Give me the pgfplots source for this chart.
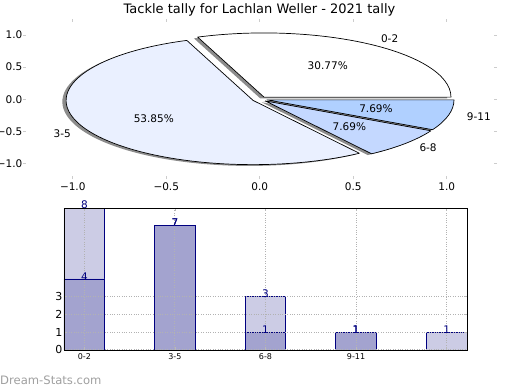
\documentclass[border=0pt]{standalone}
\usepackage{fontspec}
\setmainfont{DejaVu Sans}
\usepackage{pgfplots}
\pgfplotsset{compat=1.18}
\pgfkeys{/pgf/number format/assume math mode=true}
\definecolor{wA}{HTML}{FFFFFF}
\definecolor{wB}{HTML}{EAF0FF}
\definecolor{wC}{HTML}{C4D8FF}
\definecolor{wD}{HTML}{B0D0FF}
\definecolor{barlight}{RGB}{204,204,229}
\definecolor{bardark}{RGB}{163,163,207}
\definecolor{navyc}{RGB}{0,0,128}
% pie data (tackle counts)
\def\vA{4}\def\vB{7}\def\vC{1}\def\vD{1}\def\vT{13}
\def\ux{187}\def\uy{64.2}\def\ex{0.04}
\newcommand\pieshadow[2]{\pgfplotsextra{%
 \pgfmathsetmacro\m{((#1)+(#2))/2}%
 \pgfmathsetmacro\cx{\ex*cos(\m)-0.02}%
 \pgfmathsetmacro\cy{\ex*sin(\m)-0.02}%
 \pgfmathsetmacro\sx{\ux*cos(#1)}%
 \pgfmathsetmacro\sy{\uy*sin(#1)}%
 \fill[black!45] (axis cs:\cx,\cy) -- ++(\sx pt,\sy pt) arc[start angle={#1},end angle={#2},x radius=\ux pt,y radius=\uy pt] -- cycle;}}
\newcommand\pieslice[6]{\pgfplotsextra{%
 \pgfmathsetmacro\m{((#1)+(#2))/2}%
 \pgfmathsetmacro\cx{\ex*cos(\m)}%
 \pgfmathsetmacro\cy{\ex*sin(\m)}%
 \pgfmathsetmacro\sx{\ux*cos(#1)}%
 \pgfmathsetmacro\sy{\uy*sin(#1)}%
 \filldraw[fill=#3, draw=black, line width=0.7pt, line join=round] (axis cs:\cx,\cy) -- ++(\sx pt,\sy pt) arc[start angle={#1},end angle={#2},x radius=\ux pt,y radius=\uy pt] -- cycle;
 \pgfmathsetmacro\lx{\cx+1.1*cos(\m)}%
 \pgfmathsetmacro\ly{\cy+1.1*sin(\m)}%
 \node[anchor=#6, inner sep=0pt, font=\fontsize{10.5}{12}\selectfont] at (axis cs:\lx,\ly) {#4};
 \pgfmathsetmacro\px{\cx+0.6*cos(\m)}%
 \pgfmathsetmacro\py{\cy+0.6*sin(\m)}%
 \node[inner sep=0pt, font=\fontsize{10.5}{12}\selectfont] at (axis cs:\px,\py) {#5};}}
\begin{document}
\begin{tikzpicture}
\path[use as bounding box] (0pt,0pt) rectangle (520pt,390pt);
\begin{axis}[at={(26pt,213.7pt)}, anchor=south west, scale only axis,
 width=467.5pt, height=154.1pt,
 xmin=-1.25, xmax=1.25, ymin=-1.2, ymax=1.2,
 axis line style={draw=none},
 xtick={-1,-0.5,0,0.5,1}, xticklabels={−1.0,−0.5,0.0,0.5,1.0},
 ytick={-1,-0.5,0,0.5,1}, yticklabels={−1.0,−0.5,0.0,0.5,1.0},
 tick style={gray!40, line width=0.8pt}, major tick length=3pt, tick align=outside,
 tick pos=both,
 xticklabel pos=bottom, yticklabel pos=left,
 tick label style={font=\fontsize{10.5}{12}\selectfont},
 yticklabel style={inner sep=0pt, xshift=-0.5pt},
 clip=false]
\pieshadow{0}{360*\vA/\vT}
\pieshadow{360*\vA/\vT}{360*(\vA+\vB)/\vT}
\pieshadow{360*(\vA+\vB)/\vT}{360*(\vA+\vB+\vC)/\vT}
\pieshadow{360*(\vA+\vB+\vC)/\vT}{360}
\pieslice{0}{360*\vA/\vT}{wA}{0-2}{30.77\%}{west}
\pieslice{360*\vA/\vT}{360*(\vA+\vB)/\vT}{wB}{3-5}{53.85\%}{east}
\pieslice{360*(\vA+\vB)/\vT}{360*(\vA+\vB+\vC)/\vT}{wC}{6-8}{7.69\%}{west}
\pieslice{360*(\vA+\vB+\vC)/\vT}{360}{wD}{9-11}{7.69\%}{west}
\end{axis}
\begin{axis}[at={(64pt,40pt)}, anchor=south west, scale only axis,
 width=403pt, height=142pt,
 xmin=-0.225, xmax=4.225, ymin=0, ymax=8,
 xtick={0,1,2,3,4}, xticklabels={0-2,3-5,6-8,9-11,{}},
 ytick={0,1,2,3},
 grid=major, grid style={dotted, gray!60, line width=1pt},
 tick style={gray!55, line width=0.8pt}, major tick length=3pt, tick align=inside,
 axis on top, clip=false,
 axis line style={black, line width=0.8pt},
 x tick label style={font=\fontsize{8}{9}\selectfont},
 y tick label style={font=\fontsize{11}{12}\selectfont, inner sep=1.5pt},
 every node near coord/.style={anchor=south, inner sep=0pt, yshift=-1.5pt, text=navyc, font=\fontsize{10.5}{12}\selectfont},
]
\addplot[ybar, bar width=0.45, bar shift=0pt, fill=barlight, draw=navyc, line width=0.8pt, nodes near coords]
 coordinates {(0,8) (1,7) (2,3) (3,1) (4,1)};
\addplot[ybar, bar width=0.45, bar shift=0pt, fill=bardark, draw=navyc, line width=0.8pt, nodes near coords]
 coordinates {(0,4) (1,7) (2,1) (3,1)};
\end{axis}
\node[font=\fontsize{13}{15}\selectfont] at (259.5pt,380pt) {Tackle tally for Lachlan Weller - 2021 tally};
\node[anchor=west, inner sep=0pt, text=gray!75, font=\fontsize{11.6}{13}\selectfont] at (0pt,10pt) {Dream-Stats.com};
\end{tikzpicture}
\end{document}
